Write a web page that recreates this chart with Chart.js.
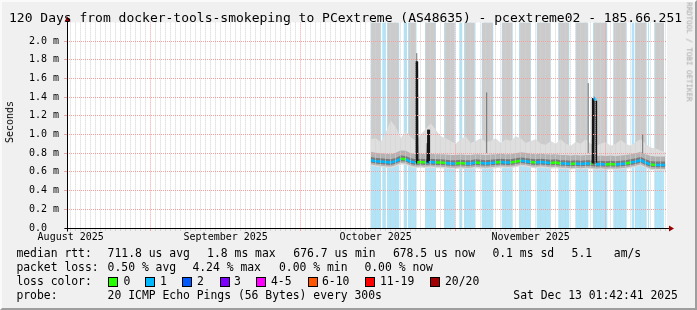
<!DOCTYPE html>
<html>
<head>
<meta charset="utf-8">
<script src="https://cdn.jsdelivr.net/npm/chart.js@4.4.1/dist/chart.umd.min.js"></script>
<style>
html,body{margin:0;padding:0;background:#f0f0f0;}
#wrap{position:relative;width:697px;height:310px;overflow:hidden;background:#f0f0f0;}
#wrap canvas{position:absolute;left:0;top:0;}
.t{position:absolute;font-family:'DejaVu Sans Mono',monospace;color:#000;white-space:pre;line-height:1;}
.lg{font-size:11.4px;}
.sw{position:absolute;width:8px;height:8px;border:1px solid #000;}
#frame{position:absolute;left:0;top:0;width:697px;height:310px;box-sizing:border-box;border-right:2px solid #9e9e9e;border-bottom:2px solid #9e9e9e;border-left:2px solid #fafafa;border-top:2px solid #fafafa;pointer-events:none;}
</style>
</head>
<body>
<div id="wrap">
<canvas id="c" width="697" height="310"></canvas>
<div class="t" style="left:9px;top:10.5px;font-size:13px;">120 Days from docker-tools-smokeping to PCextreme (AS48635) - pcextreme02 - 185.66.251</div>
<div class="t" style="left:10px;top:122px;font-size:10px;transform:translate(-50%,-50%) rotate(-90deg);">Seconds</div>
<div class="t" style="left:689px;top:52px;font-size:7.5px;color:#a8a8a8;transform:translate(-50%,-50%) rotate(90deg);">RRDTOOL / TOBI OETIKER</div>

<div class="t lg" style="left:16.4px;top:248.4px;">median rtt:</div>
<div class="t lg" style="left:107.6px;top:248.4px;">711.8 us avg</div>
<div class="t lg" style="left:207.1px;top:248.4px;">1.8 ms max</div>
<div class="t lg" style="left:293.3px;top:248.4px;">676.7 us min</div>
<div class="t lg" style="left:392.9px;top:248.4px;">678.5 us now</div>
<div class="t lg" style="left:492.4px;top:248.4px;">0.1 ms sd</div>
<div class="t lg" style="left:571.6px;top:248.4px;">5.1</div>
<div class="t lg" style="left:613.8px;top:248.4px;">am/s</div>

<div class="t lg" style="left:16.4px;top:262.4px;">packet loss:</div>
<div class="t lg" style="left:107.6px;top:262.4px;">0.50 % avg</div>
<div class="t lg" style="left:192.4px;top:262.4px;">4.24 % max</div>
<div class="t lg" style="left:279px;top:262.4px;">0.00 % min</div>
<div class="t lg" style="left:364.4px;top:262.4px;">0.00 % now</div>

<div class="t lg" style="left:16.4px;top:276.4px;">loss color:</div>
<div id="swatches"></div>

<div class="t lg" style="left:16.4px;top:290.4px;">probe:</div>
<div class="t lg" style="left:107.6px;top:290.4px;">20 ICMP Echo Pings (56 Bytes) every 300s</div>
<div class="t lg" style="left:513.3px;top:290.4px;">Sat Dec 13 01:42:41 2025</div>
<div id="frame"></div>
</div>
<script>
// ---- x values are days since 2025-08-01 00:00 ----
const X_MIN = 14.26, X_MAX = 134.26;
const monthStarts = [31, 61, 92, 122];
const monthLabelDays = [15, 46, 76, 107];
const monthLabels = ['August 2025', 'September 2025', 'October 2025', 'November 2025'];

const yLabelUnit = 'm';

// loss colour legend
const lossLegendLabels = ['0', '1', '2', '3', '4-5', '6-10', '11-19', '20/20'];
const lossLegendColors = ['#26ff00', '#00b8ff', '#0059ff', '#7e00ff', '#ff00ff', '#ff5500', '#ff0000', '#a10000'];

// periods with 1/20 packet loss (start / end, days)
const lossStart = [75.06, 77.32, 78.26, 81.60, 82.46, 85.86, 89.66, 92.72, 93.66, 97.20, 101.20, 104.66, 108.20, 112.52, 116.00, 119.46, 122.86, 123.52, 127.20, 127.86, 130.46, 131.72];
const lossEnd   = [77.06, 78.00, 80.72, 82.26, 84.16, 88.06, 91.86, 93.32, 95.86, 99.52, 103.40, 107.06, 111.00, 114.72, 118.52, 122.32, 123.00, 126.20, 127.72, 130.20, 130.66, 133.72];

// periods where the slowest ping went off the top of the graph
const tallStart = [75.10, 78.40, 82.60, 86.00, 89.80, 93.80, 97.30, 101.30, 104.80, 108.30, 112.60, 116.10, 119.60, 123.60, 127.95, 131.80];
const tallEnd   = [76.95, 80.60, 84.05, 87.90, 91.70, 95.70, 99.40, 103.30, 106.90, 110.90, 114.60, 118.40, 122.20, 126.10, 130.10, 133.65];

// daily smoke bands (ms)
const bandDays = [75.06,76,77,78,79,80,81,82,83,84,85,86,87,88,89,90,91,92,93,94,95,96,97,98,99,100,101,102,103,104,105,106,107,108,109,110,111,112,113,114,115,116,117,118,119,120,121,122,123,124,125,126,127,128,129,130,131,132,133,133.9];
const smokeLow = [0.665,0.655,0.65,0.645,0.64,0.655,0.68,0.675,0.65,0.64,0.645,0.64,0.645,0.64,0.64,0.635,0.63,0.63,0.635,0.63,0.63,0.64,0.635,0.63,0.635,0.64,0.645,0.64,0.64,0.65,0.66,0.655,0.645,0.64,0.645,0.64,0.635,0.64,0.63,0.63,0.625,0.63,0.625,0.63,0.63,0.62,0.625,0.62,0.625,0.62,0.625,0.63,0.64,0.65,0.665,0.64,0.62,0.615,0.615,0.615];
const midLow   = [0.68,0.67,0.665,0.66,0.655,0.67,0.695,0.69,0.665,0.655,0.66,0.655,0.66,0.655,0.655,0.65,0.645,0.645,0.65,0.645,0.645,0.655,0.65,0.645,0.65,0.655,0.66,0.655,0.655,0.665,0.675,0.67,0.66,0.655,0.66,0.655,0.65,0.655,0.645,0.645,0.64,0.645,0.64,0.645,0.645,0.635,0.64,0.635,0.64,0.635,0.64,0.645,0.655,0.665,0.68,0.655,0.635,0.63,0.63,0.63];
const darkLow  = [0.70,0.69,0.685,0.68,0.675,0.69,0.715,0.71,0.685,0.675,0.68,0.675,0.68,0.675,0.675,0.67,0.665,0.665,0.67,0.665,0.665,0.675,0.67,0.665,0.67,0.675,0.68,0.675,0.675,0.685,0.695,0.69,0.68,0.675,0.68,0.675,0.67,0.675,0.665,0.665,0.66,0.665,0.66,0.665,0.665,0.655,0.66,0.655,0.66,0.655,0.66,0.665,0.675,0.685,0.70,0.675,0.655,0.65,0.65,0.65];
const darkHigh = [0.76,0.75,0.745,0.74,0.735,0.75,0.775,0.77,0.745,0.735,0.74,0.735,0.74,0.735,0.735,0.73,0.725,0.725,0.73,0.725,0.725,0.735,0.73,0.725,0.73,0.735,0.74,0.735,0.735,0.745,0.755,0.75,0.74,0.735,0.74,0.735,0.73,0.735,0.725,0.725,0.72,0.725,0.72,0.725,0.725,0.715,0.72,0.715,0.72,0.715,0.72,0.725,0.735,0.745,0.76,0.735,0.715,0.71,0.71,0.71];
const midHigh  = [0.815,0.805,0.80,0.795,0.79,0.805,0.83,0.825,0.80,0.79,0.795,0.79,0.795,0.79,0.79,0.785,0.78,0.78,0.785,0.78,0.78,0.79,0.785,0.78,0.785,0.79,0.795,0.79,0.79,0.80,0.81,0.805,0.795,0.79,0.795,0.79,0.785,0.79,0.78,0.78,0.775,0.78,0.775,0.78,0.78,0.77,0.775,0.77,0.775,0.77,0.775,0.78,0.79,0.80,0.815,0.79,0.77,0.765,0.765,0.765];
const smokeTop = [0.95,0.96,0.92,1.02,1.15,1.08,0.96,1.04,0.97,0.93,1.00,1.06,1.12,1.05,0.98,0.96,0.93,0.90,0.95,0.98,0.91,0.93,0.96,0.92,0.93,0.96,0.91,0.95,0.93,0.98,0.96,0.91,0.93,0.95,0.90,0.89,0.93,0.90,0.95,0.90,0.88,0.92,0.90,0.95,0.90,0.88,0.90,0.92,0.88,0.90,0.94,0.90,0.88,0.92,0.95,0.90,0.86,0.85,0.83,0.81];

// thin single-sample smoke streaks
const streakDays = [84.21, 98.2, 118.5, 129.4];
const streakTop  = [1.87, 1.45, 1.55, 1.00];

// median rtt (ms)
const medianDays = [75.06,76,77,78,79,80,81,82,83,84,84.12,84.17,84.25,84.30,85,86,86.40,86.46,86.50,86.54,86.58,86.64,87,88,89,90,91,92,93,94,95,96,97,98,99,100,101,102,103,104,105,106,107,108,109,110,111,112,113,114,115,116,117,118,119,119.44,119.48,119.85,119.90,120.00,120.04,120.3,121,122,123,124,125,126,127,128,129,130,131,132,133,133.9];
const medianRtt  = [0.725,0.715,0.71,0.705,0.70,0.715,0.74,0.735,0.71,0.70,0.70,1.78,1.78,0.70,0.705,0.70,0.70,0.91,0.91,1.05,1.05,0.70,0.705,0.70,0.70,0.695,0.69,0.69,0.695,0.69,0.69,0.70,0.695,0.69,0.695,0.70,0.705,0.70,0.70,0.71,0.72,0.715,0.705,0.70,0.705,0.70,0.695,0.70,0.69,0.69,0.685,0.69,0.685,0.69,0.69,0.69,1.39,1.39,1.36,1.36,0.69,0.68,0.685,0.68,0.685,0.68,0.685,0.69,0.70,0.71,0.725,0.70,0.68,0.675,0.675,0.675];

// ---- build helpers ----
const TOP = 2.4;
function intervalsToPoly(starts, ends, base, top) {
  const pts = [];
  for (let i = 0; i < starts.length; i++) {
    pts.push({x: starts[i], y: base}, {x: starts[i], y: top}, {x: ends[i], y: top}, {x: ends[i], y: base});
  }
  return pts;
}
const xy = (xs, ys) => xs.map((x, i) => ({x, y: ys[i]}));
function inLoss(x) {
  for (let i = 0; i < lossStart.length; i++) if (x >= lossStart[i] && x <= lossEnd[i]) return true;
  return false;
}
const streakPts = [];
streakDays.forEach((d, i) => { streakPts.push({x: d, y: 0.8}, {x: d, y: streakTop[i]}, {x: d, y: null}); });

// swatches
const swBox = [108, 145.3, 182, 219.6, 256.4, 307.6, 365.3, 430];
const swTxt = [123.6, 160, 197, 234, 271, 322, 380, 445];
const swHost = document.getElementById('swatches');
lossLegendLabels.forEach((lab, i) => {
  const b = document.createElement('div'); b.className = 'sw';
  b.style.left = swBox[i] + 'px'; b.style.top = '277px'; b.style.background = lossLegendColors[i];
  swHost.appendChild(b);
  const t = document.createElement('div'); t.className = 't lg';
  t.style.left = swTxt[i] + 'px'; t.style.top = '276.4px'; t.textContent = lab;
  swHost.appendChild(t);
});

Chart.defaults.font.family = "'DejaVu Sans Mono', monospace";
Chart.defaults.color = '#000';

const plotBg = {
  id: 'plotBg',
  beforeDraw(chart) {
    const {ctx, chartArea: a} = chart;
    ctx.save(); ctx.fillStyle = '#ffffff';
    ctx.fillRect(a.left, a.top, a.right - a.left, a.bottom - a.top);
    ctx.restore();
  }
};
const axisArrows = {
  id: 'axisArrows',
  afterDraw(chart) {
    const {ctx, chartArea: a} = chart;
    const bx = Math.round(a.left) + 0.5, by = Math.round(a.bottom) + 0.5;
    ctx.save();
    ctx.strokeStyle = '#000'; ctx.lineWidth = 1;
    ctx.beginPath();
    ctx.moveTo(bx - 3, by); ctx.lineTo(a.right + 3, by);
    ctx.moveTo(bx, by + 3); ctx.lineTo(bx, a.top - 1);
    ctx.stroke();
    ctx.fillStyle = '#9b0000';
    ctx.beginPath();
    ctx.moveTo(a.right + 2, by - 3); ctx.lineTo(a.right + 7, by); ctx.lineTo(a.right + 2, by + 3); ctx.closePath(); ctx.fill();
    ctx.beginPath();
    ctx.moveTo(bx - 3, a.top - 1); ctx.lineTo(bx, a.top - 6); ctx.lineTo(bx + 3, a.top - 1); ctx.closePath(); ctx.fill();
    ctx.restore();
  }
};

const MINOR = '#d2d2d2', MAJOR = '#f2a0a0';
const hidden = {borderWidth: 0, pointRadius: 0, fill: false};

new Chart(document.getElementById('c'), {
  type: 'line',
  data: {
    datasets: [
      {label: 'loss bg', data: intervalsToPoly(lossStart, lossEnd, 0, TOP), borderWidth: 0, pointRadius: 0, fill: 'origin', backgroundColor: '#b0e4f8', order: 10},
      {label: 'tall smoke', data: intervalsToPoly(tallStart, tallEnd, 0.7, TOP), borderWidth: 0, pointRadius: 0, fill: {value: 0.7}, backgroundColor: '#cbcbcb', order: 9},
      Object.assign({label: 'smoke low', data: xy(bandDays, smokeLow), order: 8}, hidden),
      {label: 'smoke', data: xy(bandDays, smokeTop), borderWidth: 0, pointRadius: 0, fill: '-1', backgroundColor: '#dedede', order: 8},
      Object.assign({label: 'mid low', data: xy(bandDays, midLow), order: 7}, hidden),
      {label: 'mid', data: xy(bandDays, midHigh), borderWidth: 0, pointRadius: 0, fill: '-1', backgroundColor: '#b2b2b2', order: 7},
      Object.assign({label: 'dark low', data: xy(bandDays, darkLow), order: 6}, hidden),
      {label: 'dark', data: xy(bandDays, darkHigh), borderWidth: 0, pointRadius: 0, fill: '-1', backgroundColor: '#7a7a7a', order: 6},
      {label: 'streaks', data: streakPts, borderWidth: 1, borderColor: '#6e6e6e', pointRadius: 0, fill: false, spanGaps: false, order: 5},
      {label: 'median rtt', data: xy(medianDays, medianRtt), borderWidth: 2.5, pointRadius: 0, fill: false, borderJoinStyle: 'bevel', order: 1,
        segment: {
          borderColor: c => {
            const y0 = c.p0.parsed.y, y1 = c.p1.parsed.y;
            if (Math.abs(y1 - y0) > 0.12) return '#151515';
            return inLoss((c.p0.parsed.x + c.p1.parsed.x) / 2) ? '#00b8ff' : '#26ff00';
          }
        }}
    ]
  },
  options: {
    responsive: false, animation: false, devicePixelRatio: 1,
    layout: {padding: {left: 0, right: 30, top: 22.4, bottom: 0}},
    plugins: {legend: {display: false}, title: {display: false}, tooltip: {enabled: false}, filler: {propagate: false}},
    elements: {line: {tension: 0}, point: {radius: 0}},
    scales: {
      x: {
        type: 'linear', min: X_MIN, max: X_MAX,
        afterFit: s => { s.height = 82; },
        afterBuildTicks: s => {
          const t = [];
          for (let d = Math.ceil(X_MIN); d <= X_MAX; d++) t.push({value: d});
          s.ticks = t;
        },
        ticks: {
          autoSkip: false, maxRotation: 0, minRotation: 0, padding: 0, color: '#000',
          font: {size: 10},
          callback: v => { const i = monthLabelDays.indexOf(v); return i >= 0 ? monthLabels[i] : ''; }
        },
        grid: {
          z: 1, lineWidth: 1, drawTicks: true, tickLength: 3,
          color: c => monthStarts.includes(c.tick && c.tick.value) ? MAJOR : MINOR
        },
        border: {display: false, dash: [1, 1]}
      },
      y: {
        type: 'linear', min: 0, max: 2.199,
        afterFit: s => { s.width = 67; },
        ticks: {
          stepSize: 0.1, includeBounds: false, padding: 5, color: '#000', font: {size: 10},
          callback: v => {
            const k = Math.round(v * 10);
            if (k % 2 !== 0) return '';
            return k === 0 ? '0.0  ' : (k / 10).toFixed(1) + ' ' + yLabelUnit;
          }
        },
        grid: {
          z: 1, lineWidth: 1, drawTicks: true, tickLength: 3,
          color: c => (Math.round((c.tick ? c.tick.value : 0) * 10) % 2 === 0) ? MAJOR : MINOR
        },
        border: {display: false, dash: [1, 1]}
      }
    }
  },
  plugins: [plotBg, axisArrows]
});
</script>
</body>
</html>
